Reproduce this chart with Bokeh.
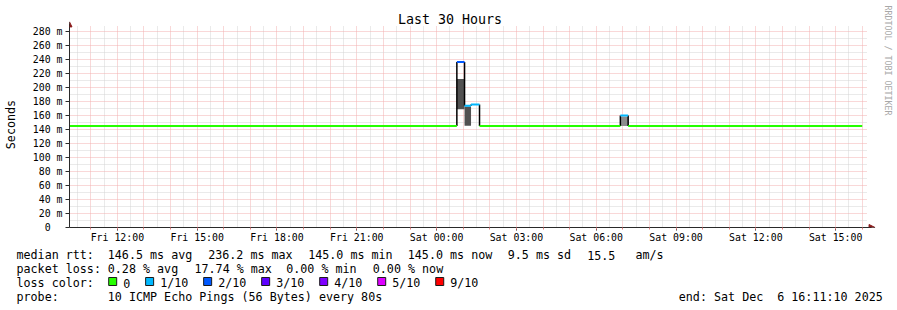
from bokeh.plotting import figure
from bokeh.layouts import column
from bokeh.models import Range1d, FixedTicker, Arrow, NormalHead
from bokeh.core.properties import value
from bokeh.embed import file_html
from bokeh.resources import INLINE

# ---------------- data ----------------
# time axis: hours since Fri 2025-12-05 00:00
# median RTT steps (ms) and loss level index of each step
seg_start = [10.2, 24.761, 25.05, 25.294, 25.613, 30.907, 31.2]
seg_end = [24.761, 25.05, 25.294, 25.613, 30.907, 31.2, 40.0]
seg_median = [145.0, 236.2, 173.6, 175.4, 145.0, 159.8, 145.0]
seg_loss = [0, 2, 1, 1, 0, 1, 0]

# smoke (spread of pings, ms)
smoke_start = [24.761, 25.05, 30.907]
smoke_end = [25.05, 25.294, 31.2]
smoke_low = [168.9, 145.2, 144.8]
smoke_high = [211.9, 172.6, 158.4]
smoke_shade = ["#515151", "#515151", "#8c8c8c"]

# min / max ping envelope edges (ms)
edge_time = [24.761, 25.05, 25.294, 25.613, 30.907, 31.2]
edge_low = [145.0, 173.6, 173.6, 145.0, 145.0, 145.0]
edge_high = [236.2, 236.2, 175.4, 175.4, 159.8, 159.8]

# loss colour legend
loss_labels = ["0", "1/10", "2/10", "3/10", "4/10", "5/10", "9/10"]
loss_colors = ["#26ff00", "#00b8ff", "#0059ff", "#5e00ff", "#7e00ff", "#dd00ff", "#ff0000"]

# axis ticks
x_tick_hours = [12, 15, 18, 21, 24, 27, 30, 33, 36, 39]
x_tick_labels = ["Fri 12:00", "Fri 15:00", "Fri 18:00", "Fri 21:00", "Sat 00:00",
                 "Sat 03:00", "Sat 06:00", "Sat 09:00", "Sat 12:00", "Sat 15:00"]
y_ticks = [0, 20, 40, 60, 80, 100, 120, 140, 160, 180, 200, 220, 240, 260, 280]
y_tick_labels = ["0", "20 m", "40 m", "60 m", "80 m", "100 m", "120 m", "140 m",
                 "160 m", "180 m", "200 m", "220 m", "240 m", "260 m", "280 m"]
t_first, t_last = 10.2, 40.2   # shown time window (h)
v_top = 287.0                   # top of value window (ms)

# statistics
rtt_stats = [146.5, 236.2, 145.0, 145.0]      # avg, max, min, now (ms)
rtt_sd = 9.5
rtt_ams = 15.5
loss_stats = [0.28, 17.74, 0.00, 0.00]        # avg, max, min, now (%)
stat_names = ["avg", "max", "min", "now"]
probe_text = "10 ICMP Echo Pings (56 Bytes) every 80s"
end_text = ["end: Sat Dec", "6 16:11:10 2025"]
title_text = "Last 30 Hours"
watermark = "RRDTOOL / TOBI OETIKER"
y_title = "Seconds"

# ---------------- layout ----------------
W, H = 897, 310
FL, FB = 67, 228          # graph area left / bottom (px)
GR, GT = 867, 26          # graph area right / top (px)
MAIN_H = 245
MONO = "DejaVu Sans Mono"
AX = "#2a2a2a"
ARROW_C = "#8b1a1a"

PXH = (GR - FL) / (t_last - t_first)     # px per hour
PXM = (FB - GT) / v_top                  # px per ms


def dx(px):
    return t_first + (px - FL) / PXH


def dy(py):
    return (FB - py) / PXM


p = figure(width=W, height=MAIN_H,
           x_range=Range1d(t_first, dx(W)), y_range=Range1d(0, dy(0)),
           output_backend="svg", toolbar_location=None,
           min_border_left=FL, min_border_right=0, min_border_top=0,
           min_border_bottom=MAIN_H - FB, background_fill_color="white",
           border_fill_color="white", outline_line_color=None)

# grids
p.xgrid.ticker = FixedTicker(ticks=list(range(11, 41)),
                             minor_ticks=[h + 0.5 for h in range(10, 40)])
p.ygrid.ticker = FixedTicker(ticks=y_ticks, minor_ticks=[t + 10 for t in y_ticks[:-1]])
p.xgrid.cross_bounds = (0, v_top)
p.ygrid.cross_bounds = (t_first, t_last)
for g in (p.xgrid, p.ygrid):
    g.grid_line_color = "#f3b0b0"
    g.grid_line_dash = "1 1"
    g.grid_line_width = 1
    g.minor_grid_line_color = "#d4d4d4"
    g.minor_grid_line_dash = "1 1"
    g.minor_grid_line_width = 1

# axes
p.xaxis.ticker = FixedTicker(ticks=x_tick_hours, minor_ticks=list(range(11, 41)))
p.xaxis.major_label_overrides = dict(zip(x_tick_hours, x_tick_labels))
p.xaxis.bounds = (t_first, dx(871))
p.yaxis.ticker = FixedTicker(ticks=y_ticks, minor_ticks=[])
p.yaxis.major_label_overrides = {
    t: (lab if lab.endswith(" m") else lab + "\u00a0\u00a0")
    for t, lab in zip(y_ticks, y_tick_labels)}
p.yaxis.bounds = (0, dy(23))
for ax in (p.xaxis, p.yaxis):
    ax.axis_line_color = AX
    ax.axis_line_width = 1
    ax.major_tick_line_color = AX
    ax.major_tick_in = 0
    ax.major_label_text_font = MONO
    ax.major_label_text_font_size = "9.9px"
    ax.major_label_text_color = "black"
    ax.minor_tick_in = 0
p.xaxis.major_tick_out = 3
p.xaxis.minor_tick_out = 2
p.xaxis.minor_tick_line_color = "#e08080"
p.xaxis.major_label_standoff = 1
p.yaxis.major_tick_out = 4
p.yaxis.minor_tick_line_color = None
p.yaxis.major_label_standoff = 3
# trailing no-break spaces move the centred label down to the graph-area centre
p.yaxis.axis_label = y_title + "\u00a0\u00a0\u00a0"
p.yaxis.axis_label_text_font = MONO
p.yaxis.axis_label_text_font_size = "11.7px"
p.yaxis.axis_label_text_font_style = "normal"
p.yaxis.axis_label_text_color = "black"
p.yaxis.axis_label_standoff = 12

# axis arrows
p.add_layout(Arrow(end=NormalHead(size=5, fill_color=ARROW_C, line_color=ARROW_C, line_width=1),
                   x_start=t_first, y_start=v_top, x_end=t_first, y_end=dy(21.5),
                   line_color=AX, line_width=1))
p.add_layout(Arrow(end=NormalHead(size=6, fill_color=ARROW_C, line_color=ARROW_C, line_width=1),
                   x_start=t_last, y_start=0, x_end=dx(874.5), y_end=0,
                   line_color=AX, line_width=1))

# data glyphs
p.quad(left=smoke_start, right=smoke_end, bottom=smoke_low, top=smoke_high,
       fill_color=smoke_shade, line_color=None)
p.segment(x0=edge_time, y0=edge_low, x1=edge_time, y1=edge_high,
          line_color="black", line_width=1.5)
p.segment(x0=seg_start, y0=seg_median, x1=seg_end, y1=seg_median,
          line_color=[loss_colors[i] for i in seg_loss], line_width=2)

# title and watermark (inside the main canvas area above / right of the graph)
p.text(x=[dx(448.5)], y=[dy(19.3)], text=[title_text], text_font=value(MONO),
       text_font_size=value("13.3px"), text_align="center", text_baseline="alphabetic",
       text_color="black")
p.text(x=[dx(887)], y=[dy(5)], text=[watermark], text_font=value(MONO),
       text_font_size=value("8.3px"), text_align="left", text_baseline="middle",
       angle=-1.5707963, text_color="#a8a8a8")

# ---------------- legend block ----------------
q = figure(width=W, height=H - MAIN_H, x_range=Range1d(0, W), y_range=Range1d(H, MAIN_H),
           output_backend="svg", toolbar_location=None, x_axis_type=None, y_axis_type=None,
           min_border=0, min_border_left=0, min_border_right=0, min_border_top=0,
           min_border_bottom=0, background_fill_color="white", border_fill_color="white",
           outline_line_color=None)
for fig in (p, q):
    if "frame_align" in fig.properties():
        fig.frame_align = False

LEG = "11.7px"
rows = [254.5, 268.5, 282.5, 296.7]
tx, ty, tt = [], [], []


def put(text, x, y):
    tx.append(x)
    ty.append(y)
    tt.append(text)


put("median rtt:", 16, rows[0])
for xpos, v, n in zip([107.3, 207.7, 307.7, 407.3], rtt_stats, stat_names):
    put(f"{v:.1f} ms {n}", xpos, rows[0])
put(f"{rtt_sd:.1f} ms sd", 507.3, rows[0])
put(f"{rtt_ams:.1f}", 586.7, rows[0])
put("am/s", 635, rows[0])
put("packet loss:", 16, rows[1])
for xpos, v, n in zip([107.3, 194.0, 285.7, 372.3], loss_stats, stat_names):
    put(f"{v:.2f} % {n}", xpos, rows[1])
put("loss color:", 16, rows[2])
bx = []
xc = 122.7
for text in loss_labels:
    put(text, xc, rows[2])
    bx.append(xc - 14.5)
    xc += len(text) * 7.03 + 29.9
put("probe:", 16, rows[3])
put(probe_text, 107.3, rows[3])
put(end_text[0], 678.3, rows[3])
put(end_text[1], 776.7, rows[3])

q.text(x=tx, y=ty, text=tt, text_font=value(MONO), text_font_size=value(LEG),
       text_align="left", text_baseline="alphabetic", text_color="black")
q.quad(left=bx, right=[b + 8 for b in bx], top=[277.0] * len(bx), bottom=[285.0] * len(bx),
       fill_color=loss_colors, line_color="#1a1a1a", line_width=1)

layout = column(p, q, spacing=0)
open("out.html", "w").write(file_html(layout, INLINE))
